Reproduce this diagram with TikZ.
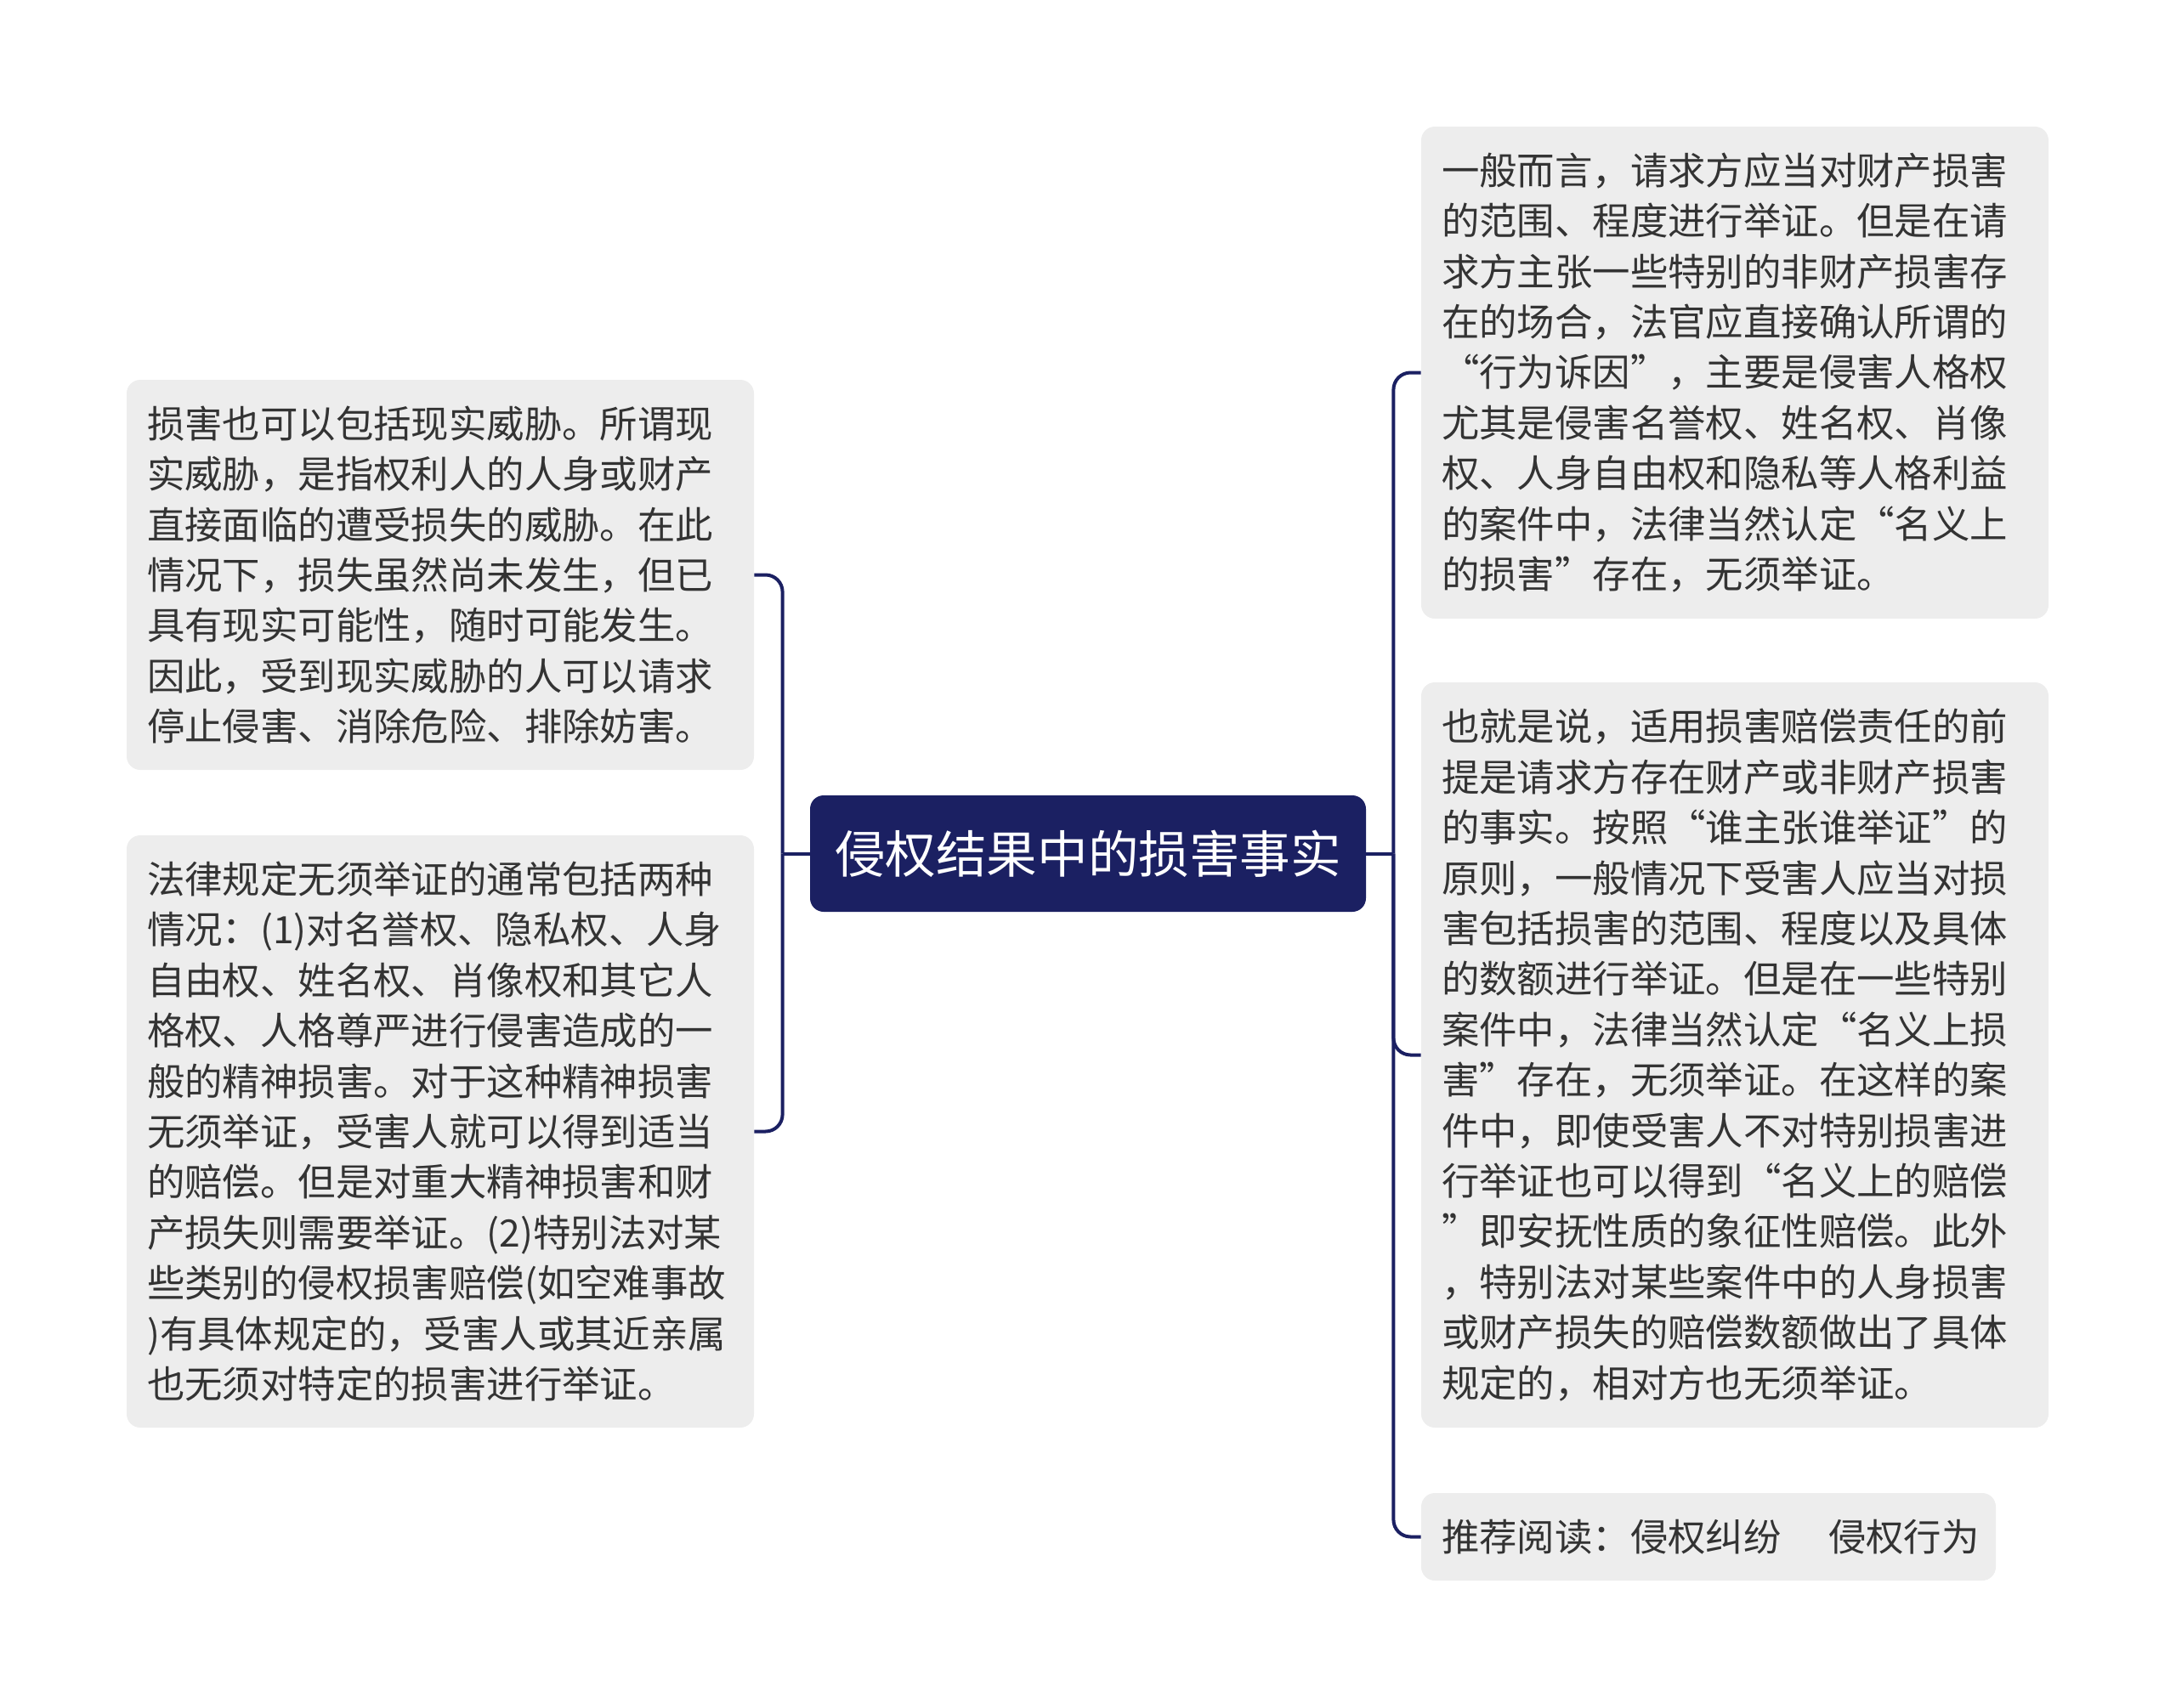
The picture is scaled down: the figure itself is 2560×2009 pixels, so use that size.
\documentclass[tikz,border=0pt]{standalone}
\usepackage{fontspec}
\setmainfont{Noto Sans CJK SC}
\definecolor{navy}{HTML}{1B2062}
\definecolor{notegray}{HTML}{EDEDED}
\definecolor{inkgray}{HTML}{333333}
\begin{document}
\begin{tikzpicture}[x=0.5pt,y=-0.5pt,
    topicbox/.style={fill=navy,rounded corners=8pt,text=white,inner sep=0pt,
        font=\fontsize{29.8pt}{36pt}\selectfont,minimum width=327pt,minimum height=68.5pt},
    notebox/.style={fill=notegray,rounded corners=8pt,text=inkgray,align=left,
        font=\fontsize{22.2pt}{29.7pt}\selectfont,text width=345pt,inner xsep=12pt,inner ysep=0pt},
    link/.style={draw=navy,line width=2pt,rounded corners=10pt}]
    \useasboundingbox (0,0) rectangle (2560,2009);
    % centre
    \node[topicbox] (main) at (1280,1004.5) {侵权结果中的损害事实};
    % left side
    \node[notebox,minimum height=229.5pt] (lb1) at (518,676.5) {损害也可以包括现实威胁。所谓现\\实威胁，是指权利人的人身或财产\\直接面临的遭受损失的威胁。在此\\情况下，损失虽然尚未发生，但已\\具有现实可能性，随时可能发生。\\因此，受到现实威胁的人可以请求\\停止侵害、消除危险、排除妨害。};
    \node[notebox,minimum height=348.5pt] (lb2) at (518,1331.5) {法律规定无须举证的通常包括两种\\情况：(1)对名誉权、隐私权、人身\\自由权、姓名权、肖像权和其它人\\格权、人格尊严进行侵害造成的一\\般的精神损害。对于这种精神损害\\无须举证，受害人就可以得到适当\\的赔偿。但是对重大精神损害和财\\产损失则需要举证。(2)特别法对某\\些类别的侵权损害赔偿(如空难事故\\)有具体规定的，受害人或其近亲属\\也无须对特定的损害进行举证。};
    % right side
    \node[notebox,minimum height=289.5pt] (rb1) at (2041,438.5) {一般而言，请求方应当对财产损害\\的范围、程度进行举证。但是在请\\求方主张一些特别的非财产损害存\\在的场合，法官应直接确认所谓的\\“行为诉因”，主要是侵害人格权\\尤其是侵害名誉权、姓名权、肖像\\权、人身自由权和隐私等人格利益\\的案件中，法律当然认定“名义上\\的损害”存在，无须举证。};
    \node[notebox,minimum height=438.5pt] (rb2) at (2041,1241.5) {也就是说，适用损害赔偿责任的前\\提是请求方存在财产或非财产损害\\的事实。按照“谁主张谁举证”的\\原则，一般情况下受害人应当对损\\害包括损害的范围、程度以及具体\\的数额进行举证。但是在一些特别\\案件中，法律当然认定“名义上损\\害”存在，无须举证。在这样的案\\件中，即使受害人不对特别损害进\\行举证也可以得到“名义上的赔偿\\”即安抚性质的象征性赔偿。此外\\，特别法对某些案件中的人身损害\\或财产损失的赔偿数额做出了具体\\规定的，相对方也无须举证。};
    \node[notebox,text width=314pt,minimum height=51.5pt] (rb3) at (2010,1808.5) {\mbox{推荐阅读：侵权纠纷\hspace{1.25em}侵权行为}};
    % connectors
    \coordinate (lj) at ([xshift=-16pt]main.west);
    \coordinate (rj) at ([xshift=16pt]main.east);
    \draw[link] (main.west) -- (lj);
    \draw[link] (main.east) -- (rj);
    \draw[link] (lj) |- (lb1.east);
    \draw[link] (lj) |- (lb2.east);
    \draw[link] (rj) |- (rb1.west);
    \draw[link] (rj) |- (rb2.west);
    \draw[link] (rj) |- (rb3.west);
\end{tikzpicture}
\end{document}
